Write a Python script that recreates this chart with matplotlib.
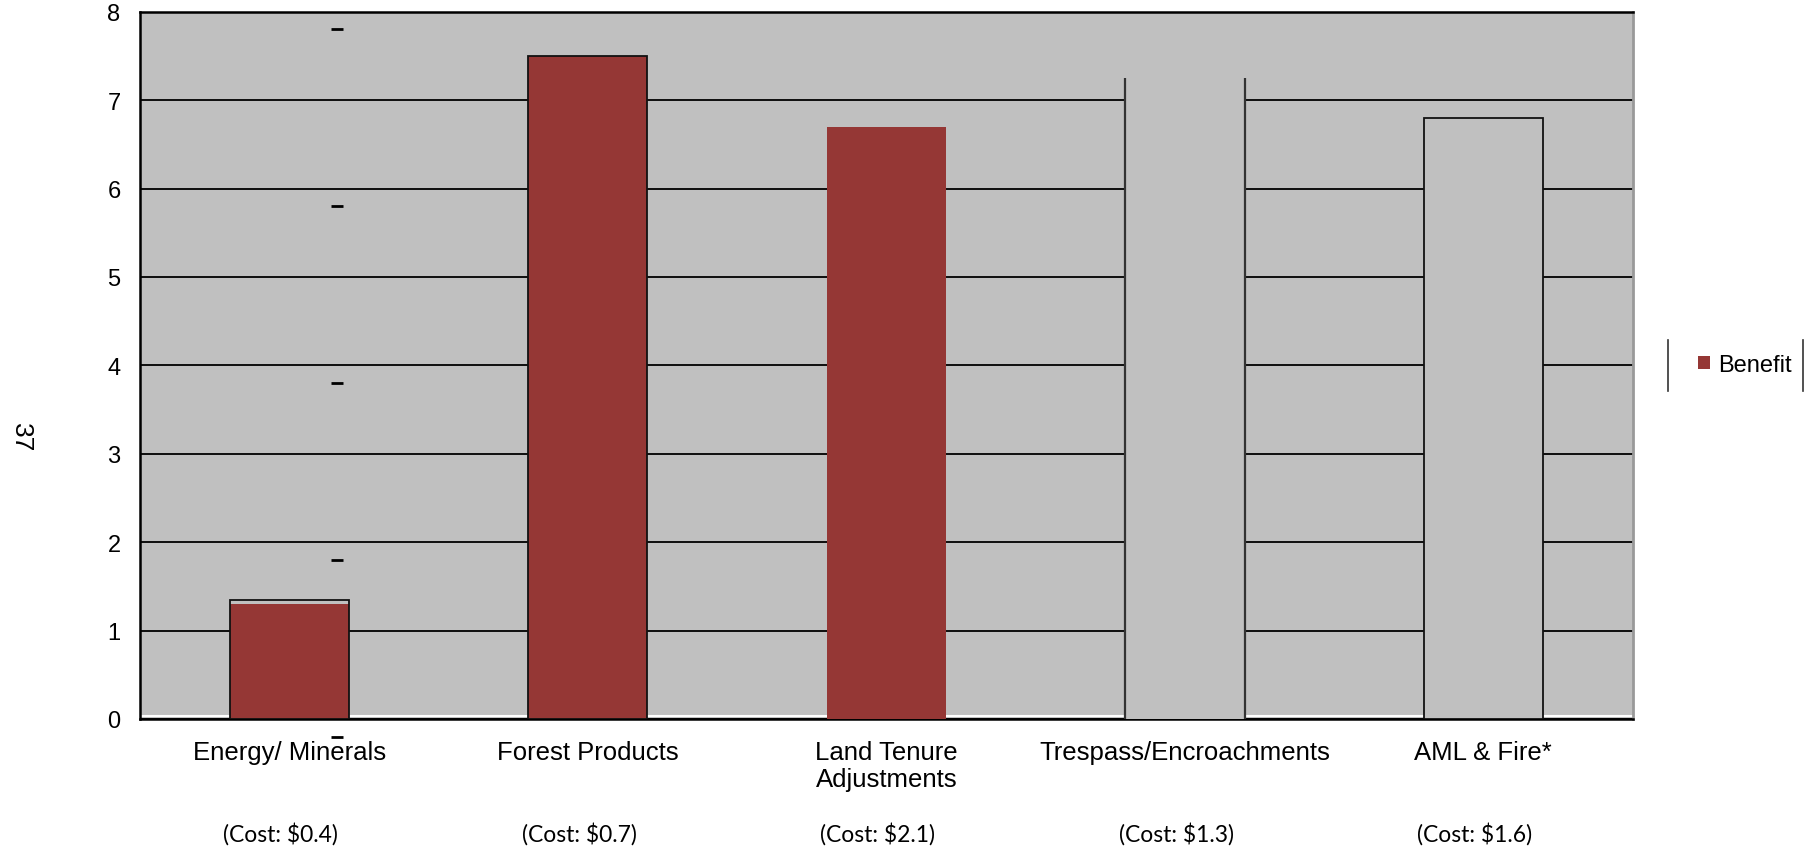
import matplotlib
matplotlib.use('Agg')
import matplotlib.pyplot as plt
from matplotlib.lines import Line2D
import numpy as np

plt.rcParams['font.family'] = ['Liberation Sans', 'DejaVu Sans']

# Datos
categories = ['Energy/ Minerals', 'Forest Products', 'Land Tenure\nAdjustments',
              'Trespass/Encroachments', 'AML & Fire*']
costs = ['(Cost: $0.4)', '(Cost: $0.7)', '(Cost: $2.1)', '(Cost: $1.3)', '(Cost: $1.6)']
benefit = [1.3, 7.5, 6.7, 0.0, 0.0]
# serie "fantasma" gris con contorno (restos del gráfico original)
outline = [1.35, 7.5, 0.0, 7.25, 6.8]
# pequeños guiones sueltos cerca de la primera categoría
dash_vals = [7.8, 5.8, 3.8, 1.8, -0.2]
yticks = [0, 1, 2, 3, 4, 5, 6, 7, 8]

RED = '#953735'
GRAY = '#c0c0c0'

fig = plt.figure(figsize=(18.06, 8.54), dpi=100)
ax = fig.add_axes([0.0775, 0.157, 0.8265, 0.828])
ax.set_facecolor(GRAY)

x = np.arange(len(categories))
w = 0.4

# Barras de beneficio
bars = ax.bar(x, benefit, width=w, color=RED, edgecolor='none', zorder=3, label='Benefit')

# Contornos grises (Trespass sin borde superior: se dibujan solo los lados)
faces = ['none', 'none', 'none', GRAY, GRAY]
widths = [1.3, 1.3, 0, 0, 1.3]
ax.bar(x, outline, width=w, facecolor=faces, edgecolor='#111111',
       linewidth=widths, zorder=4)
ax.vlines([x[3] - w / 2, x[3] + w / 2], 0, outline[3], color='#333333',
          linewidth=1.6, zorder=5)

# línea blanca justo encima del eje inferior
ax.axhline(0.03, color='white', linewidth=1.5, zorder=2)

# Guiones
ax.plot([0.16] * len(dash_vals), dash_vals, linestyle='none', marker='_',
        markersize=9, markeredgewidth=2, color='black', zorder=5, clip_on=False)

ax.set_xlim(-0.5, len(categories) - 0.5)
ax.set_ylim(0, 8)
ax.set_yticks(yticks)
ax.yaxis.grid(True, color='black', linewidth=1.3)
ax.set_axisbelow(True)

ax.set_xticks(x)
ax.set_xticklabels(categories, fontsize=18.5, linespacing=1.15)
ax.tick_params(axis='x', length=0, pad=15)
ax.tick_params(axis='y', length=0, pad=14, labelsize=17)

for s in ['left', 'bottom', 'top']:
    ax.spines[s].set_color('black')
    ax.spines[s].set_linewidth(1.8)
ax.spines['right'].set_color('#999999')
ax.spines['right'].set_linewidth(2)

# Etiquetas de coste
for i, c in enumerate(costs):
    ax.annotate(c, xy=(i, 0), xytext=(-6, -82), textcoords='offset points',
                ha='center', va='center', fontsize=16.5, family=['Lato', 'DejaVu Sans'])

fig.text(21 / 1806, 1 - 438 / 854, '37', rotation=-90, fontsize=19,
         ha='center', va='center')

# Leyenda
fig.legend(handles=[bars], labels=['Benefit'], loc='center left',
           bbox_to_anchor=(1698 / 1806, 1 - 366 / 854), frameon=False,
           borderaxespad=0, borderpad=0,
           fontsize=17, handlelength=0.5, handleheight=0.5, handletextpad=0.35)
for xp in [1668 / 1806, 1803 / 1806]:
    fig.add_artist(Line2D([xp, xp], [1 - 341 / 854, 1 - 392 / 854],
                          color='#333333', linewidth=1.2))

fig.savefig('out.png', dpi=100)
